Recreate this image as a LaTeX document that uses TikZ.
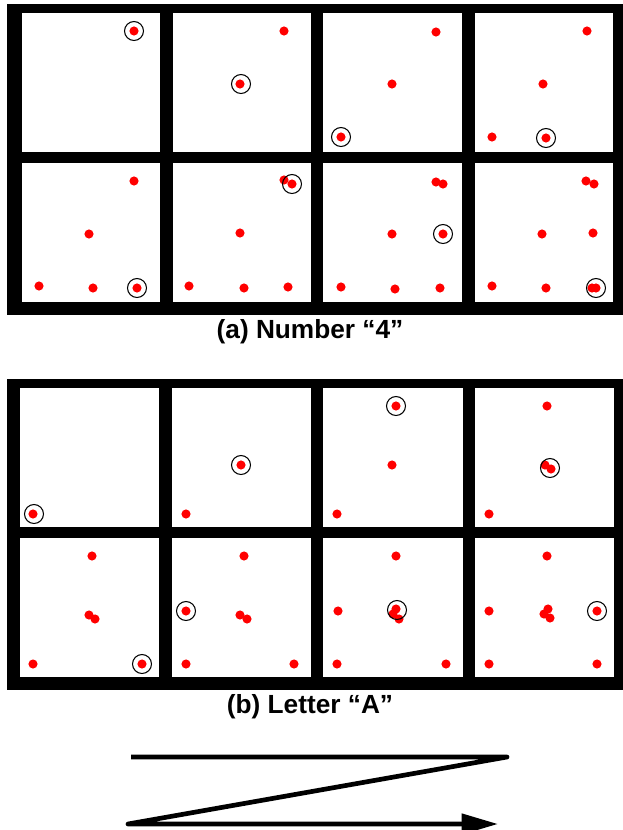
\documentclass[tikz,border=0pt]{standalone}
\usepackage{fontspec}
\setmainfont{Liberation Sans}
\usetikzlibrary{arrows.meta}

\begin{document}
\begin{tikzpicture}[x=0.03cm, y=-0.03cm,
    reddot/.style={fill=red},
    ring/.style={draw=black, line width=0.9pt},
    caption/.style={font=\fontsize{22.4}{27}\selectfont\bfseries}]
    \useasboundingbox (0,0) rectangle (623,830);
    % Painel (a) --- numero 4
    \fill[black] (7,4) rectangle (623,315);
    \foreach \xa/\xb in {22/160, 173/311, 323/462, 475/613}
      \foreach \ya/\yb in {13/152, 163/302}
        \fill[white] (\xa,\ya) rectangle (\xb,\yb);
    % Pontos (a)
    \foreach \x/\y in {134/31, 284/31, 240/84, 436/32, 392/84, 341/137,
        587/31, 543/84, 492/137, 546/138,
        134/181, 89/234, 39/286, 93/288, 137/288,
        284/180, 292/184, 240/233, 189/286, 244/288, 288/287,
        436/182, 443/184, 392/234, 443/234, 341/287, 395/289, 440/288,
        586/181, 594/184, 542/234, 593/233, 492/286, 546/288, 592/288, 596/288}
      \fill[reddot] (\x,\y) circle[radius=3.9pt];
    \foreach \x/\y in {134/31, 241/84, 341/137, 546/138, 137/288, 292/184, 443/234, 596/288}
      \draw[ring] (\x,\y) circle[radius=8.1pt];
    \node[caption] (capa) at (310,332) {(a) Number “4”};
    % Painel (b) --- letra A
    \fill[black] (7,379) rectangle (623,690);
    \foreach \xa/\xb in {20/159, 172/311, 323/463, 475/614}
      \foreach \ya/\yb in {388/527, 538/677}
        \fill[white] (\xa,\ya) rectangle (\xb,\yb);
    % Pontos (b)
    \foreach \x/\y in {33/514,
        186/514, 241/465,
        396/406, 392/465, 337/514,
        547/406, 545/465, 551/469, 489/514,
        92/556, 89/615, 95/619, 33/664, 142/664,
        244/556, 186/611, 240/615, 247/619, 186/664, 294/664,
        396/556, 338/611, 396/609, 393/614, 399/619, 337/664, 446/664,
        547/556, 489/611, 548/609, 544/614, 550/618, 597/611, 489/664, 597/664}
      \fill[reddot] (\x,\y) circle[radius=3.9pt];
    \foreach \x/\y in {34/514, 241/465, 396/406, 550/468, 142/664, 186/611, 397/610, 597/611}
      \draw[ring] (\x,\y) circle[radius=8.1pt];
    \node[caption] (capb) at (310,707) {(b) Letter “A”};
    % Ordem de varredura
    \coordinate (z1) at (131,757);
    \coordinate (z2) at (507,757);
    \coordinate (z3) at (128,824);
    \coordinate (z4) at (498,824);
    \draw[line width=4pt, line join=round, -{Triangle[length=31pt, width=17pt]}]
      (z1) -- (z2) -- (z3) -- (z4);
\end{tikzpicture}
\end{document}
